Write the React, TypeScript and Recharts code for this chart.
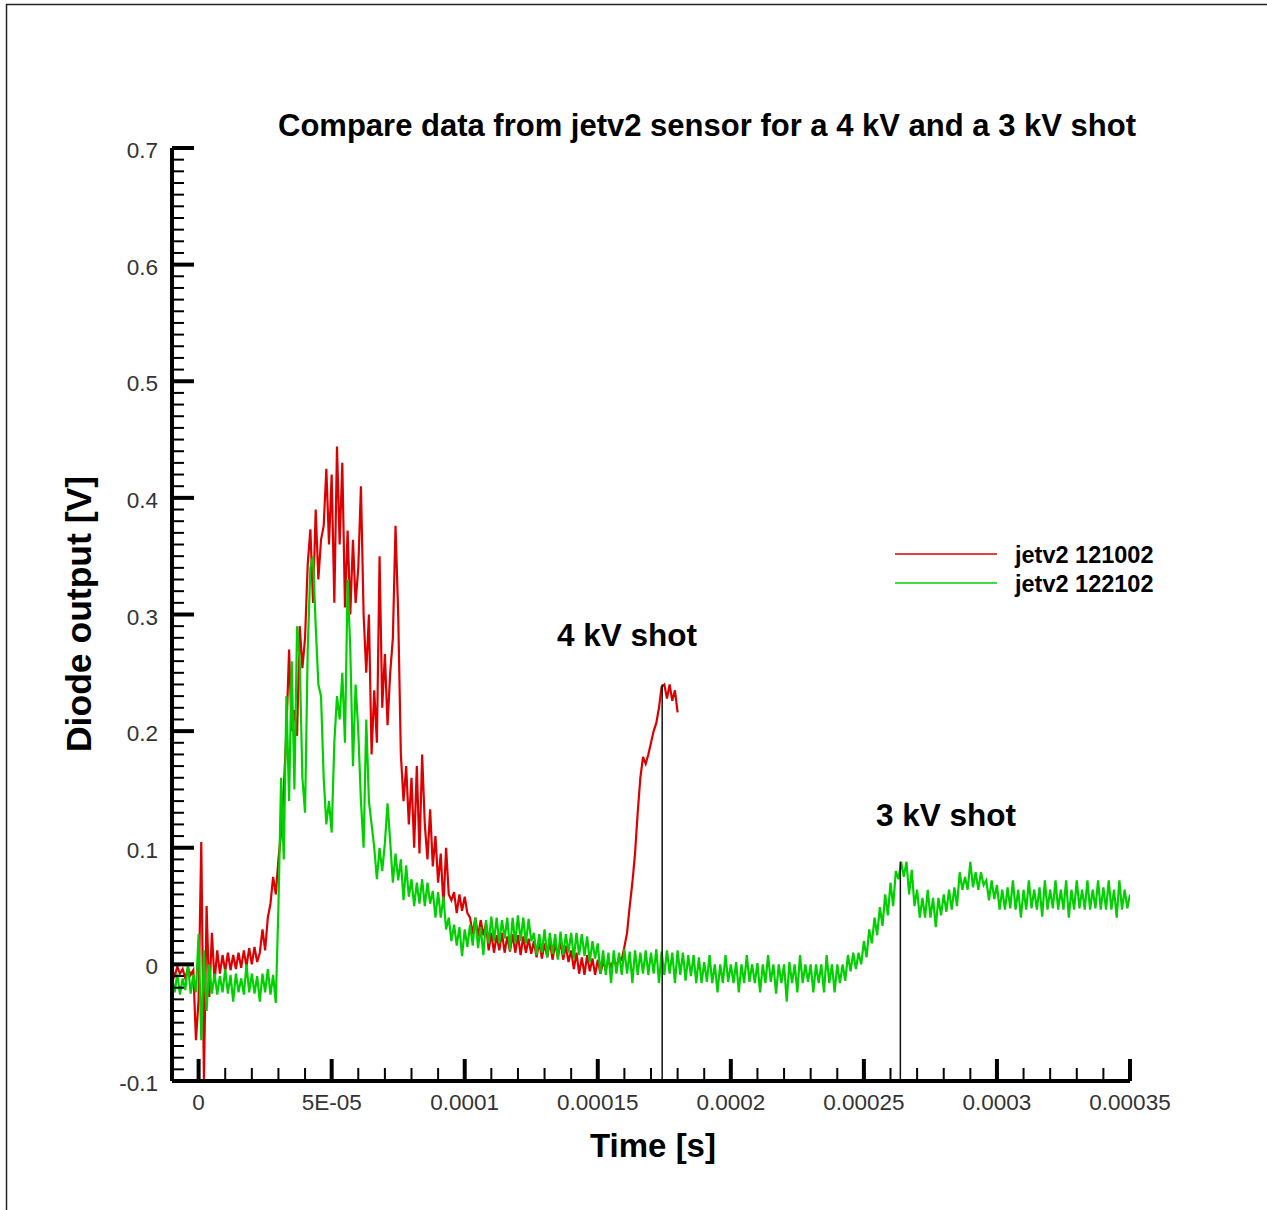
import { LineChart, Line, XAxis, YAxis, ReferenceLine } from 'recharts'

// one sample per microsecond, first sample at -10 us
const SAMPLE_START_US = -10

// jetv2 121002 (4 kV shot), -10 .. 180 us
const jetv2_121002 = [
  -0.004, -0.010, -0.002, -0.008, -0.004, -0.012, -0.003, -0.009, -0.005, -0.065,
  -0.030, 0.105, -0.099, 0.050, -0.028, 0.027, -0.015, 0.012, -0.008, 0.008,
  -0.006, 0.010, -0.005, 0.008, -0.004, 0.010, -0.003, 0.012, -0.002, 0.014,
  0.000, 0.015, 0.002, 0.010, 0.030, 0.012, 0.040, 0.052, 0.075, 0.060,
  0.090, 0.113, 0.150, 0.200, 0.270, 0.200, 0.218, 0.196, 0.290, 0.254,
  0.280, 0.343, 0.373, 0.310, 0.390, 0.330, 0.364, 0.376, 0.425, 0.360,
  0.420, 0.310, 0.444, 0.360, 0.430, 0.306, 0.372, 0.300, 0.364, 0.310,
  0.340, 0.410, 0.300, 0.250, 0.300, 0.180, 0.235, 0.190, 0.350, 0.220,
  0.266, 0.205, 0.250, 0.280, 0.376, 0.300, 0.180, 0.140, 0.170, 0.120,
  0.160, 0.100, 0.170, 0.095, 0.180, 0.120, 0.090, 0.133, 0.084, 0.110,
  0.070, 0.095, 0.050, 0.100, 0.060, 0.055, 0.062, 0.044, 0.060, 0.046,
  0.058, 0.044, 0.040, 0.026, 0.040, 0.024, 0.038, 0.025, 0.035, 0.012,
  0.027, 0.010, 0.025, 0.012, 0.027, 0.010, 0.024, 0.011, 0.026, 0.010,
  0.025, 0.008, 0.024, 0.010, 0.022, 0.009, 0.020, 0.006, 0.020, 0.005,
  0.018, 0.006, 0.020, 0.004, 0.018, 0.006, 0.020, 0.004, 0.016, 0.002,
  0.012, -0.004, 0.010, -0.008, 0.006, -0.009, 0.008, -0.006, 0.005, -0.009,
  0.004, -0.008, 0.002, -0.004, 0.003, -0.002, 0.004, -0.002, 0.006, 0.004,
  0.015, 0.027, 0.050, 0.070, 0.095, 0.130, 0.160, 0.178, 0.172, 0.180,
  0.190, 0.200, 0.207, 0.220, 0.238, 0.240, 0.228, 0.240, 0.226, 0.235,
  0.216,
]

// jetv2 122102 (3 kV shot), -10 .. 350 us
const jetv2_122102 = [
  -0.010, -0.024, -0.008, -0.026, -0.012, -0.022, 0.000, -0.025, -0.009, -0.024,
  0.026, -0.065, 0.012, -0.040, 0.000, -0.025, -0.008, -0.026, -0.010, -0.024,
  -0.004, -0.025, -0.009, -0.032, -0.008, -0.024, -0.012, -0.026, 0.000, -0.024,
  -0.008, -0.025, -0.010, -0.032, -0.008, -0.024, -0.004, -0.026, -0.009, -0.033,
  0.050, 0.160, 0.090, 0.230, 0.140, 0.260, 0.150, 0.290, 0.260, 0.160,
  0.130, 0.270, 0.340, 0.350, 0.290, 0.240, 0.230, 0.160, 0.120, 0.140,
  0.113, 0.190, 0.230, 0.210, 0.250, 0.190, 0.330, 0.270, 0.170, 0.240,
  0.200, 0.140, 0.100, 0.210, 0.140, 0.120, 0.100, 0.073, 0.100, 0.080,
  0.104, 0.138, 0.105, 0.070, 0.095, 0.072, 0.090, 0.055, 0.085, 0.058,
  0.073, 0.050, 0.070, 0.052, 0.073, 0.050, 0.070, 0.052, 0.063, 0.040,
  0.062, 0.040, 0.058, 0.030, 0.040, 0.020, 0.034, 0.016, 0.032, 0.007,
  0.030, 0.015, 0.034, 0.016, 0.040, 0.014, 0.032, 0.008, 0.038, 0.018,
  0.041, 0.020, 0.040, 0.018, 0.038, 0.022, 0.040, 0.012, 0.040, 0.018,
  0.042, 0.020, 0.040, 0.018, 0.039, 0.020, 0.027, 0.008, 0.026, 0.010,
  0.030, 0.006, 0.027, 0.009, 0.026, 0.004, 0.028, 0.008, 0.026, 0.010,
  0.027, 0.005, 0.027, 0.008, 0.026, 0.007, 0.024, 0.002, 0.020, 0.005,
  0.018, -0.008, 0.012, -0.009, 0.010, -0.016, 0.012, -0.008, 0.010, -0.009,
  0.013, -0.008, 0.011, -0.016, 0.012, -0.009, 0.010, -0.008, 0.012, -0.009,
  0.010, -0.008, 0.013, -0.016, 0.011, -0.009, 0.012, -0.008, 0.010, -0.016,
  0.012, -0.009, 0.010, -0.014, 0.008, -0.010, 0.008, -0.016, 0.006, -0.016,
  0.002, -0.015, 0.008, -0.016, 0.000, -0.024, 0.000, -0.016, 0.008, -0.015,
  0.000, -0.016, 0.002, -0.024, 0.000, -0.016, 0.008, -0.015, 0.000, -0.016,
  0.001, -0.024, 0.000, -0.016, 0.008, -0.015, 0.000, -0.025, 0.000, -0.016,
  0.000, -0.032, 0.002, -0.016, 0.000, -0.024, 0.008, -0.016, 0.000, -0.015,
  0.000, -0.024, 0.000, -0.016, 0.000, -0.024, 0.008, -0.016, 0.000, -0.024,
  0.000, -0.016, 0.000, -0.014, 0.008, -0.006, 0.010, -0.004, 0.010, 0.000,
  0.020, 0.006, 0.030, 0.018, 0.040, 0.025, 0.049, 0.033, 0.060, 0.042,
  0.070, 0.050, 0.080, 0.073, 0.088, 0.075, 0.088, 0.060, 0.081, 0.050,
  0.064, 0.040, 0.057, 0.040, 0.064, 0.040, 0.057, 0.032, 0.057, 0.042,
  0.060, 0.045, 0.064, 0.047, 0.066, 0.050, 0.079, 0.064, 0.075, 0.064,
  0.088, 0.066, 0.079, 0.064, 0.079, 0.068, 0.072, 0.055, 0.072, 0.056,
  0.068, 0.047, 0.064, 0.047, 0.066, 0.048, 0.072, 0.047, 0.064, 0.040,
  0.064, 0.047, 0.072, 0.048, 0.064, 0.047, 0.066, 0.041, 0.072, 0.047,
  0.064, 0.048, 0.072, 0.047, 0.064, 0.047, 0.072, 0.040, 0.064, 0.047,
  0.072, 0.048, 0.064, 0.047, 0.072, 0.047, 0.064, 0.048, 0.072, 0.047,
  0.066, 0.047, 0.072, 0.047, 0.064, 0.040, 0.072, 0.047, 0.064, 0.048,
  0.060,
]

// marker lines under each shot peak
const shotTimes = [174.2, 263.7]
const shotPeaks = [0.24, 0.088]

const xMajorTicks = [0, 50, 100, 150, 200, 250, 300, 350]
const xTickLabels = ['0', '5E-05', '0.0001', '0.00015', '0.0002', '0.00025', '0.0003', '0.00035']
const yMajorTicks = [-0.1, 0, 0.1, 0.2, 0.3, 0.4, 0.5, 0.6, 0.7]
const yTickLabels = ['-0.1', '0', '0.1', '0.2', '0.3', '0.4', '0.5', '0.6', '0.7']

const RED = '#dd0000'
const GREEN = '#00d000'
const FONT = '"Liberation Sans", Arial, sans-serif'

const series = [
  { name: 'jetv2 121002', color: RED, values: jetv2_121002 },
  { name: 'jetv2 122102', color: GREEN, values: jetv2_122102 },
]

const toRows = (values: number[]) => values.map((v, i) => ({ t: SAMPLE_START_US + i, v }))

// minor ticks every 10 us / 0.01 V
const xTicks: number[] = []
for (let t = -10; t <= 350; t += 10) xTicks.push(t)
const yTicks: number[] = []
for (let i = -10; i <= 70; i++) yTicks.push(i / 100)

const isMajorY = (v: number) => Math.abs(v * 10 - Math.round(v * 10)) < 1e-6

function XTick(props: any) {
  const { x, y, payload } = props
  const idx = xMajorTicks.indexOf(payload.value)
  const major = idx >= 0
  return (
    <g>
      <line x1={x} x2={x} y1={y} y2={y - (major ? 22 : 13)} stroke="#000" strokeWidth={major ? 4 : 2} />
      {major && (
        <text x={x} y={y + 29} textAnchor="middle" fontFamily={FONT} fontSize={22.5} fill="#333">
          {xTickLabels[idx]}
        </text>
      )}
    </g>
  )
}

function YTick(props: any) {
  const { x, y, payload } = props
  const major = isMajorY(payload.value)
  const idx = yMajorTicks.findIndex((m) => Math.abs(m - payload.value) < 1e-6)
  return (
    <g>
      <line x1={x} x2={x + (major ? 22 : 12)} y1={y} y2={y} stroke="#000" strokeWidth={major ? 4 : 2} />
      {major && (
        <text x={x - 14} y={y + 10} textAnchor="end" fontFamily={FONT} fontSize={22.5} fill="#333">
          {yTickLabels[idx]}
        </text>
      )}
    </g>
  )
}

export default function App() {
  return (
    <div style={{ position: 'fixed', left: 0, top: 0, width: 1267, height: 1210, overflow: 'hidden', background: '#fff' }}>
      <LineChart width={1267} height={1210} margin={{ top: 148, right: 137, bottom: 69, left: 112 }}>
        <XAxis
          dataKey="t"
          type="number"
          domain={[-10, 350]}
          ticks={xTicks}
          interval={0}
          allowDataOverflow
          height={60}
          tickSize={0}
          tickMargin={0}
          tickLine={false}
          axisLine={{ stroke: '#000', strokeWidth: 4 }}
          tick={<XTick />}
        />
        <YAxis
          dataKey="v"
          type="number"
          domain={[-0.1, 0.7]}
          ticks={yTicks}
          interval={0}
          allowDataOverflow
          width={60}
          tickSize={0}
          tickMargin={0}
          tickLine={false}
          axisLine={{ stroke: '#000', strokeWidth: 4 }}
          tick={<YTick />}
        />
        {series.map((s) => (
          <Line
            key={s.name}
            data={toRows(s.values)}
            dataKey="v"
            name={s.name}
            type="linear"
            stroke={s.color}
            strokeWidth={2.2}
            dot={false}
            activeDot={false}
            isAnimationActive={false}
          />
        ))}
        {shotTimes.map((t, i) => (
          <ReferenceLine
            key={t}
            segment={[{ x: t, y: shotPeaks[i] }, { x: t, y: -0.1 }]}
            stroke="#111"
            strokeWidth={1.5}
          />
        ))}
      </LineChart>

      {/* title, annotations, legend, frame */}
      <svg width={1267} height={1210} style={{ position: 'absolute', left: 0, top: 0, pointerEvents: 'none' }}>
        <rect x={6.5} y={4.5} width={1400} height={1400} fill="none" stroke="#222" strokeWidth={1.5} />
        <text x={278} y={136} fontFamily={FONT} fontSize={31} fontWeight="bold" fill="#000">
          Compare data from jetv2 sensor for a 4 kV and a 3 kV shot
        </text>
        <text x={557} y={646} fontFamily={FONT} fontSize={31.5} fontWeight="bold" fill="#000">4 kV shot</text>
        <text x={876} y={826} fontFamily={FONT} fontSize={31.5} fontWeight="bold" fill="#000">3 kV shot</text>
        <text x={653} y={1157} textAnchor="middle" fontFamily={FONT} fontSize={33} fontWeight="bold" fill="#000">
          Time [s]
        </text>
        <text
          x={0}
          y={0}
          transform="translate(91 614) rotate(-90)"
          textAnchor="middle"
          fontFamily={FONT}
          fontSize={35.5}
          fontWeight="bold"
          fill="#000"
        >
          Diode output [V]
        </text>
        {series.map((s, i) => (
          <g key={s.name}>
            <line x1={895} x2={997} y1={554 + i * 29} y2={554 + i * 29} stroke={s.color} strokeWidth={1.5} />
            <text x={1015} y={563 + i * 29} fontFamily={FONT} fontSize={23.5} fontWeight="bold" fill="#000">
              {s.name}
            </text>
          </g>
        ))}
      </svg>
    </div>
  )
}
